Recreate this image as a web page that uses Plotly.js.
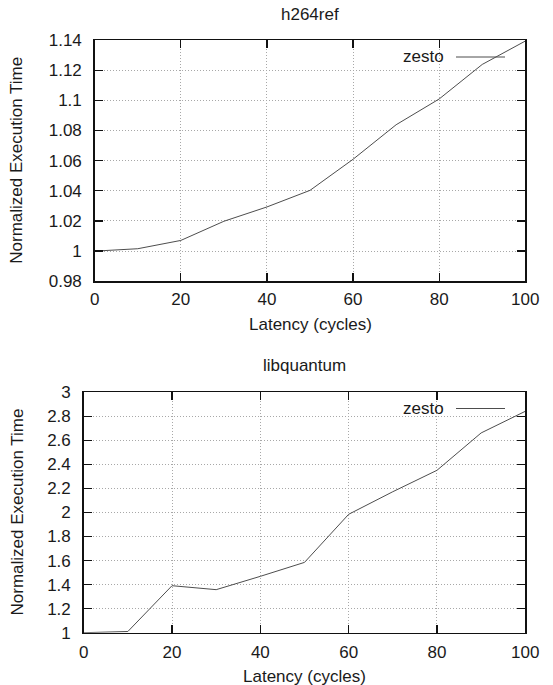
<!DOCTYPE html>
<html>
<head>
<meta charset="utf-8">
<script src="https://cdn.plot.ly/plotly-3.0.1.min.js"></script>
<style>html,body{margin:0;padding:0;background:#fff;}#chart{width:553px;height:685px;}</style>
</head>
<body>
<div id="chart"></div>
<script>
// Data
var latency = [0, 10, 20, 30, 40, 50, 60, 70, 80, 90, 100];
var h264ref = [1.000, 1.0016, 1.0071, 1.0198, 1.0293, 1.0403, 1.0609, 1.0838, 1.1009, 1.1238, 1.1393];
var libquantum = [1.000, 1.01, 1.391, 1.358, 1.469, 1.585, 1.985, 2.173, 2.351, 2.662, 2.842];
var seriesName = "zesto";
var titles = ["h264ref", "libquantum"];
var xTitle = "Latency (cycles)";
var yTitle = "Normalized Execution Time";
var xTicks = [0, 20, 40, 60, 80, 100];
var xTickText = ["0", "20", "40", "60", "80", "100"];
var yTicksTop = [0.98, 1.00, 1.02, 1.04, 1.06, 1.08, 1.10, 1.12, 1.14];
var yTickTextTop = ["0.98", "1", "1.02", "1.04", "1.06", "1.08", "1.1", "1.12", "1.14"];
var yTicksBot = [1, 1.2, 1.4, 1.6, 1.8, 2, 2.2, 2.4, 2.6, 2.8, 3];
var yTickTextBot = ["1", "1.2", "1.4", "1.6", "1.8", "2", "2.2", "2.4", "2.6", "2.8", "3"];

var W = 553, H = 685;
function px(x){ return x / W; }
function py(y){ return 1 - y / H; }

var font = {family: "Liberation Sans, Arial, sans-serif", size: 17, color: "#1a1a1a"};
var lineStyle = {color: "#4d4d4d", width: 1};

var traces = [
  {x: latency, y: h264ref, type: "scatter", mode: "lines", line: lineStyle, xaxis: "x", yaxis: "y", showlegend: false, name: seriesName},
  {x: latency, y: libquantum, type: "scatter", mode: "lines", line: lineStyle, xaxis: "x2", yaxis: "y2", showlegend: false, name: seriesName}
];

function axisBase(){
  return {
    showline: true, linecolor: "#111", linewidth: 1.5, mirror: "ticks",
    ticks: "inside", ticklen: 8, tickcolor: "#111", tickwidth: 1.3,
    showgrid: true, gridcolor: "#a8a8a8", gridwidth: 1, griddash: "1px,2px",
    zeroline: false, tickfont: font, tickmode: "array", fixedrange: true
  };
}

var xa1 = Object.assign(axisBase(), {domain: [px(94.7), px(525.3)], range: [0, 100], tickvals: xTicks, ticktext: xTickText, anchor: "y", ticklabelstandoff: 2});
var ya1 = Object.assign(axisBase(), {domain: [py(281.3), py(40)], range: [0.98, 1.14], tickvals: yTicksTop, ticktext: yTickTextTop, anchor: "x", ticklabelstandoff: 8});
var xa2 = Object.assign(axisBase(), {domain: [px(83.7), px(525.3)], range: [0, 100], tickvals: xTicks, ticktext: xTickText, anchor: "y2", ticklabelstandoff: 3});
var ya2 = Object.assign(axisBase(), {domain: [py(632.7), py(392.3)], range: [1, 3], tickvals: yTicksBot, ticktext: yTickTextBot, anchor: "x2", ticklabelstandoff: 8});

function ann(text, x, y, opts){
  return Object.assign({text: text, xref: "paper", yref: "paper", x: x, y: y, showarrow: false, font: font, xanchor: "center", yanchor: "middle"}, opts || {});
}

var annotations = [
  ann(titles[0], px(309.5), py(14)),
  ann(titles[1], px(304.5), py(366)),
  ann(xTitle, px(310), py(324.5)),
  ann(xTitle, px(304.5), py(676)),
  ann(yTitle, px(17), py(160.7), {textangle: -90}),
  ann(yTitle, px(17), py(512.5), {textangle: -90}),
  ann(seriesName, px(446), py(57), {xanchor: "right"}),
  ann(seriesName, px(446), py(408.5), {xanchor: "right"})
];

var shapes = [
  {type: "rect", xref: "paper", yref: "paper", x0: px(393), x1: px(507), y0: py(420), y1: py(398), fillcolor: "#fff", line: {width: 0}, layer: "between"},
  {type: "line", xref: "paper", yref: "paper", x0: px(456), x1: px(505), y0: py(57), y1: py(57), line: {color: "#4d4d4d", width: 1}},
  {type: "line", xref: "paper", yref: "paper", x0: px(456), x1: px(505), y0: py(408.5), y1: py(408.5), line: {color: "#4d4d4d", width: 1}}
];

var layout = {
  width: W, height: H,
  margin: {l: 0, r: 0, t: 0, b: 0, pad: 0},
  paper_bgcolor: "#fff", plot_bgcolor: "#fff",
  font: font,
  showlegend: false,
  xaxis: xa1, yaxis: ya1, xaxis2: xa2, yaxis2: ya2,
  annotations: annotations,
  shapes: shapes
};

Plotly.newPlot("chart", traces, layout, {displayModeBar: false, staticPlot: true});
</script>
</body>
</html>
